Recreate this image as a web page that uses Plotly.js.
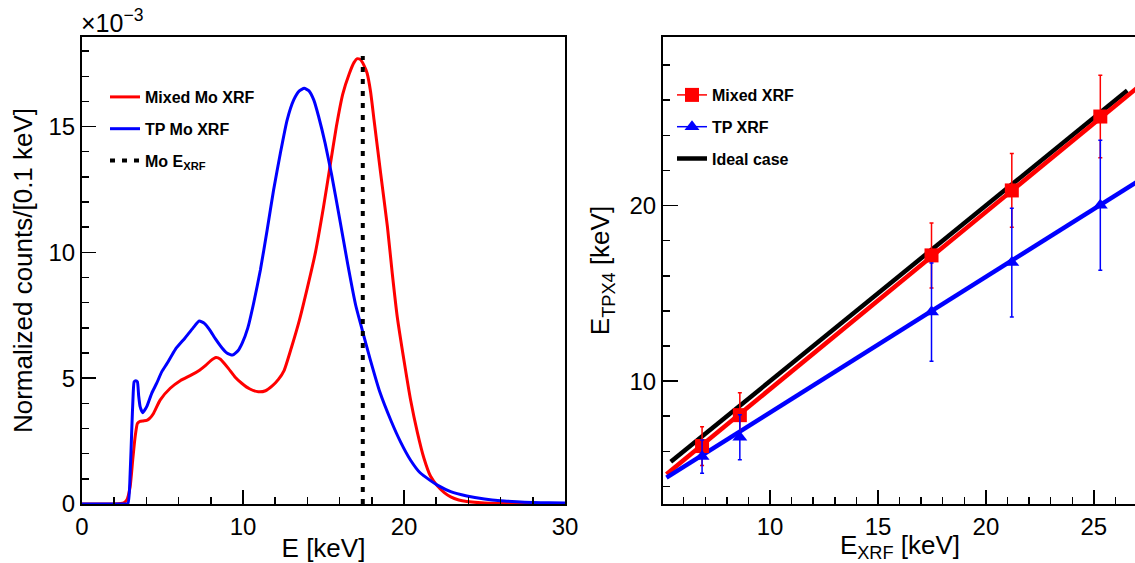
<!DOCTYPE html>
<html>
<head>
<meta charset="utf-8">
<script src="https://cdn.plot.ly/plotly-3.0.1.min.js"></script>
<style>
html, body { margin: 0; padding: 0; overflow: hidden; background: #fff; }
#chart { width: 1140px; height: 563px; }
</style>
</head>
<body>
<div id="chart"></div>
<script>
// ---------- Left panel: normalized spectra (values in units of 1e-3) ----------
const tpE = [0, 1, 2, 2.5, 2.85, 2.99, 3.09, 3.18, 3.24, 3.34, 3.44, 3.52, 3.61, 3.77, 4.02, 4.33, 4.64, 4.95, 5.3, 5.8, 6.4, 6.9, 7.28, 7.6, 7.9, 8.3, 8.7, 9.0, 9.35, 9.7, 9.95, 10.3, 10.66, 11.08, 11.5, 11.9, 12.32, 12.74, 13.15, 13.5, 13.8, 14.1, 14.4, 14.7, 15.1, 15.5, 16.0, 16.5, 17.0, 17.4, 17.9, 18.5, 19.2, 19.8, 20.4, 21.0, 21.6, 22.1, 22.9, 23.9, 25.0, 26.0, 27.0, 28.0, 29.0, 30.0];
const tpCounts = [0, 0, 0, 0, 0.02, 1.2, 2.94, 4.4, 4.86, 4.9, 4.86, 4.3, 3.87, 3.63, 3.87, 4.4, 4.8, 5.25, 5.6, 6.15, 6.6, 7.0, 7.27, 7.18, 6.95, 6.55, 6.2, 6.0, 5.92, 6.1, 6.39, 7.0, 7.98, 9.3, 10.89, 12.48, 13.94, 15.26, 16.06, 16.42, 16.52, 16.42, 16.05, 15.39, 14.34, 13.1, 11.35, 9.55, 7.9, 6.93, 5.75, 4.45, 3.3, 2.45, 1.75, 1.24, 0.95, 0.74, 0.49, 0.32, 0.2, 0.13, 0.09, 0.06, 0.045, 0.035];

const mixedE = [0, 1, 2, 2.4, 2.6, 2.78, 2.99, 3.15, 3.3, 3.44, 3.6, 3.8, 4.02, 4.2, 4.44, 4.85, 5.48, 6.1, 6.8, 7.3, 7.7, 8.0, 8.32, 8.6, 9.09, 9.5, 9.92, 10.4, 10.95, 11.4, 11.8, 12.2, 12.55, 13.0, 13.5, 14.0, 14.5, 15.0, 15.4, 15.8, 16.2, 16.6, 16.9, 17.1, 17.3, 17.5, 17.71, 17.92, 18.14, 18.55, 18.97, 19.27, 19.58, 20.0, 20.41, 20.83, 21.24, 21.65, 22.07, 22.5, 22.9, 23.4, 23.9, 25.0, 27.0, 30.0];
const mixedCounts = [0, 0, 0, 0.02, 0.05, 0.16, 0.69, 1.75, 2.67, 3.2, 3.28, 3.3, 3.32, 3.4, 3.6, 4.13, 4.6, 4.9, 5.13, 5.32, 5.52, 5.7, 5.82, 5.75, 5.39, 5.05, 4.8, 4.58, 4.46, 4.5, 4.68, 4.95, 5.3, 6.2, 7.3, 8.6, 10.0, 11.8, 13.4, 15.0, 16.3, 17.1, 17.55, 17.7, 17.66, 17.45, 17.12, 16.4, 15.26, 13.14, 11.02, 9.17, 7.44, 5.7, 4.13, 2.85, 1.82, 1.1, 0.72, 0.45, 0.28, 0.16, 0.1, 0.04, 0.02, 0.01];

const moXrfEnergy = [17.44, 17.44];
const moXrfMarker = [0, 17.8];

// ---------- Right panel: reconstructed vs. true XRF energy ----------
const xrfEnergy = [6.85, 8.6, 17.48, 21.2, 25.3];
const mixedTpx = [6.30, 8.06, 17.16, 20.86, 25.07];
const mixedErr = [1.1, 1.27, 1.85, 2.1, 2.35];
const tpTpx = [5.70, 6.80, 13.93, 16.75, 20.02];
const tpErr = [0.95, 1.28, 2.8, 3.1, 3.7];

const idealFitX = [5.4, 26.55];
const idealFitY = [5.4, 26.55];
const mixedFitX = [5.2, 27.0];
const mixedFitY = [4.7, 26.7];
const tpFitX = [5.2, 27.0];
const tpFitY = [4.5, 21.35];

const W = 1140, H = 563;
const px = v => v / W;
const py = v => 1 - v / H;

const FONT = 'Liberation Sans, Arial, Helvetica, sans-serif';
const RED = '#ff0000', BLUE = '#0000ff', BLACK = '#000000';

const traces = [
  {x: mixedE, y: mixedCounts, xaxis: 'x', yaxis: 'y', mode: 'lines', name: '<b>Mixed Mo XRF</b>',
   line: {color: RED, width: 3, shape: 'spline', smoothing: 0.5}, legend: 'legend', legendgroup: 'a'},
  {x: tpE, y: tpCounts, xaxis: 'x', yaxis: 'y', mode: 'lines', name: '<b>TP Mo XRF</b>',
   line: {color: BLUE, width: 3, shape: 'spline', smoothing: 0.5}, legend: 'legend', legendgroup: 'b'},
  {x: moXrfEnergy, y: moXrfMarker, xaxis: 'x', yaxis: 'y', mode: 'lines', name: '<b>Mo E<sub>XRF</sub></b>',
   line: {color: BLACK, width: 4, dash: '5px,7px'}, legend: 'legend', legendgroup: 'c'},

  {x: idealFitX, y: idealFitY, xaxis: 'x2', yaxis: 'y2', mode: 'lines', showlegend: false,
   line: {color: BLACK, width: 4.5}},
  {x: mixedFitX, y: mixedFitY, xaxis: 'x2', yaxis: 'y2', mode: 'lines', showlegend: false,
   line: {color: RED, width: 4.5}},
  {x: tpFitX, y: tpFitY, xaxis: 'x2', yaxis: 'y2', mode: 'lines', showlegend: false,
   line: {color: BLUE, width: 4.5}},
  {x: xrfEnergy, y: mixedTpx, xaxis: 'x2', yaxis: 'y2', mode: 'markers', showlegend: false,
   marker: {symbol: 'square', size: 14, color: RED},
   error_y: {type: 'data', array: mixedErr, visible: true, color: RED, thickness: 1.5, width: 2}},
  {x: xrfEnergy, y: tpTpx, xaxis: 'x2', yaxis: 'y2', mode: 'markers', showlegend: false,
   marker: {symbol: 'triangle-up', size: 13, color: BLUE},
   error_y: {type: 'data', array: tpErr, visible: true, color: BLUE, thickness: 1.5, width: 2}},

  {x: [null], y: [null], xaxis: 'x2', yaxis: 'y2', mode: 'lines+markers', name: '<b>Mixed XRF</b>',
   line: {color: RED, width: 1.5}, marker: {symbol: 'square', size: 14, color: RED},
   legend: 'legend2', legendgroup: 'd'},
  {x: [null], y: [null], xaxis: 'x2', yaxis: 'y2', mode: 'lines+markers', name: '<b>TP XRF</b>',
   line: {color: BLUE, width: 1.5}, marker: {symbol: 'triangle-up', size: 13, color: BLUE},
   legend: 'legend2', legendgroup: 'e'},
  {x: [null], y: [null], xaxis: 'x2', yaxis: 'y2', mode: 'lines', name: '<b>Ideal case</b>',
   line: {color: BLACK, width: 4.5}, legend: 'legend2', legendgroup: 'f'}
];

function axisBase(extra) {
  return Object.assign({
    showgrid: false, zeroline: false, showline: true, mirror: true,
    linecolor: BLACK, linewidth: 2,
    ticks: 'inside', tickcolor: BLACK, tickwidth: 1.5,
    tickfont: {family: FONT, size: 24, color: BLACK},
    automargin: false, fixedrange: true
  }, extra);
}

const layout = {
  width: W, height: H,
  margin: {l: 0, r: 0, t: 0, b: 0},
  paper_bgcolor: '#ffffff', plot_bgcolor: '#ffffff',
  font: {family: FONT, color: BLACK},
  xaxis: axisBase({
    domain: [px(82), px(565)], range: [0, 30], anchor: 'y',
    dtick: 10, tick0: 0, ticklen: 14,
    minor: {dtick: 2, ticks: 'inside', ticklen: 7, tickcolor: BLACK, tickwidth: 1.5},
    title: {text: 'E [keV]', font: {family: FONT, size: 26}, standoff: 4}
  }),
  yaxis: axisBase({
    domain: [1 - 504 / H, 1 - 37 / H], range: [0, 18.56], anchor: 'x',
    dtick: 5, tick0: 0, ticklen: 14,
    minor: {dtick: 1, ticks: 'inside', ticklen: 7, tickcolor: BLACK, tickwidth: 1.5},
    title: {text: 'Normalized counts/[0.1 keV]', font: {family: FONT, size: 26}, standoff: 8}
  }),
  xaxis2: axisBase({
    domain: [px(663), px(1137)], range: [5.04, 27], anchor: 'y2',
    dtick: 5, tick0: 0, ticklen: 14,
    minor: {dtick: 1, ticks: 'inside', ticklen: 7, tickcolor: BLACK, tickwidth: 1.5},
    title: {text: 'E<sub>XRF</sub> [keV]', font: {family: FONT, size: 26}, standoff: 4}
  }),
  yaxis2: axisBase({
    domain: [1 - 504 / H, 1 - 37 / H], range: [3.0, 29.6], anchor: 'x2',
    dtick: 10, tick0: 0, ticklen: 15,
    minor: {dtick: 2, ticks: 'inside', ticklen: 7, tickcolor: BLACK, tickwidth: 1.5},
    title: {text: 'E<sub>TPX4</sub> [keV]', font: {family: FONT, size: 26}, standoff: 12}
  }),
  legend: {
    x: px(105), y: py(80), xanchor: 'left', yanchor: 'top',
    bgcolor: 'rgba(0,0,0,0)', borderwidth: 0, tracegroupgap: 8,
    font: {family: FONT, size: 16, color: BLACK}
  },
  legend2: {
    x: px(672), y: py(78), xanchor: 'left', yanchor: 'top',
    bgcolor: 'rgba(0,0,0,0)', borderwidth: 0, tracegroupgap: 8,
    font: {family: FONT, size: 16, color: BLACK}
  },
  annotations: [
    {text: '×10<sup>−3</sup>', xref: 'paper', yref: 'paper', x: px(79), y: py(39),
     xanchor: 'left', yanchor: 'bottom', showarrow: false,
     font: {family: FONT, size: 25, color: BLACK}}
  ]
};

Plotly.newPlot('chart', traces, layout, {displayModeBar: false, staticPlot: true});
</script>
</body>
</html>
